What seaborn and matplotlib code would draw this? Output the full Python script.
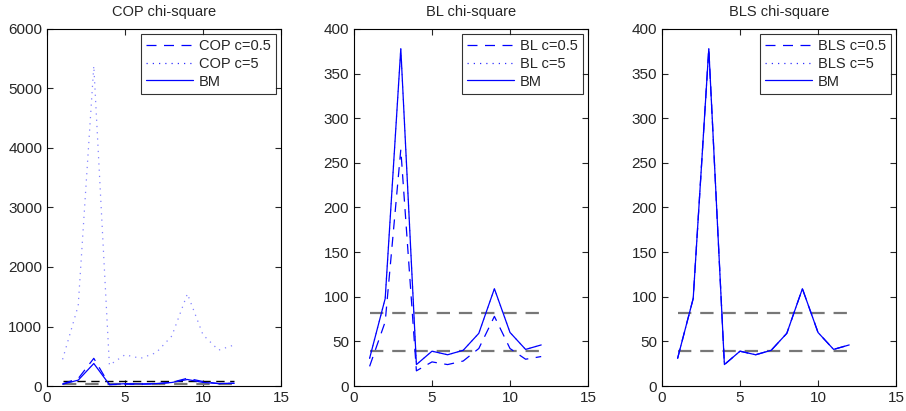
import numpy as np
import pandas as pd
import matplotlib
matplotlib.use("Agg")
import matplotlib.pyplot as plt
import seaborn as sns

sns.set_style("ticks")
plt.rcParams['font.family'] = ['Liberation Sans', 'DejaVu Sans']

x = list(range(1, 13))
bm = [31, 98, 378, 24, 39, 35, 40, 59, 109, 60, 41, 46]
cop_c05 = [35, 125, 465, 22, 30, 30, 35, 62, 130, 75, 40, 45]
cop_c5 = [448, 1350, 5380, 350, 525, 465, 560, 840, 1550, 860, 603, 690]
bl_c05 = [22, 72, 265, 17, 27, 24, 28, 42, 78, 42, 30, 33]
bl_c5 = [31, 98, 378, 24, 39, 35, 40, 59, 109, 60, 41, 46]
bls_c05 = [31, 98, 378, 24, 39, 35, 40, 59, 109, 60, 41, 46]
bls_c5 = [31, 98, 378, 24, 39, 35, 40, 59, 109, 60, 41, 46]
bound_lo = [39.7, 39.7]
bound_hi = [82.1, 82.1]
bound_x = [1, 12]

titles = ["COP chi-square", "BL chi-square", "BLS chi-square"]
prefixes = ["COP", "BL", "BLS"]
c05_sets = [cop_c05, bl_c05, bls_c05]
c5_sets = [cop_c5, bl_c5, bls_c5]
ylims = [(0, 6000), (0, 400), (0, 400)]
yticks = [list(range(0, 6001, 1000)), list(range(0, 401, 50)), list(range(0, 401, 50))]

fig = plt.figure(figsize=(9.06, 4.11), dpi=100)
W, H = 906, 411
lefts = [47, 354, 662]
top, bottom = 29, 386
width = 234

for i in range(3):
    ax = fig.add_axes([lefts[i] / W, (H - bottom) / H, width / W, (bottom - top) / H])
    df = pd.DataFrame({"x": x, "c05": c05_sets[i], "c5": c5_sets[i], "bm": bm})
    bdf = pd.DataFrame({"x": bound_x, "lo": bound_lo, "hi": bound_hi})
    hi_color = "black" if i == 0 else "#777777"
    hi_lw = 1.0 if i == 0 else 1.6
    sns.lineplot(data=bdf, x="x", y="hi", ax=ax, color=hi_color, lw=hi_lw,
                 linestyle=(0, (6, 4)), legend=False)
    sns.lineplot(data=bdf, x="x", y="lo", ax=ax, color="#777777", lw=1.6,
                 linestyle=(0, (6, 4)), legend=False)
    sns.lineplot(data=df, x="x", y="c05", ax=ax, color="blue", lw=0.9,
                 linestyle=(0, (8, 6)), label=f"{prefixes[i]} c=0.5")
    sns.lineplot(data=df, x="x", y="c5", ax=ax, color="#3030ff", lw=0.9, alpha=0.6,
                 linestyle=(0, (1, 4)), label=f"{prefixes[i]} c=5")
    sns.lineplot(data=df, x="x", y="bm", ax=ax, color="blue", lw=0.9, label="BM")
    ax.set_xlim(0, 15)
    ax.set_ylim(*ylims[i])
    ax.set_xticks([0, 5, 10, 15])
    ax.set_yticks(yticks[i])
    ax.set_xlabel("")
    ax.set_ylabel("")
    ax.set_title(titles[i], fontsize=10.5, pad=9)
    ax.tick_params(direction="in", top=True, right=True, labelsize=11, length=4, width=0.8)
    for s in ax.spines.values():
        s.set_linewidth(0.8)
        s.set_color("black")
    leg = ax.legend(loc="upper right", fontsize=10.5, frameon=True, fancybox=False,
                    edgecolor="black", handlelength=3.2, handletextpad=0.4,
                    borderpad=0.35, labelspacing=0.25, borderaxespad=0.35)
    leg.get_frame().set_linewidth(0.8)
    for lh in leg.get_lines():
        lh.set_alpha(1)

fig.savefig("out.png", dpi=100)
